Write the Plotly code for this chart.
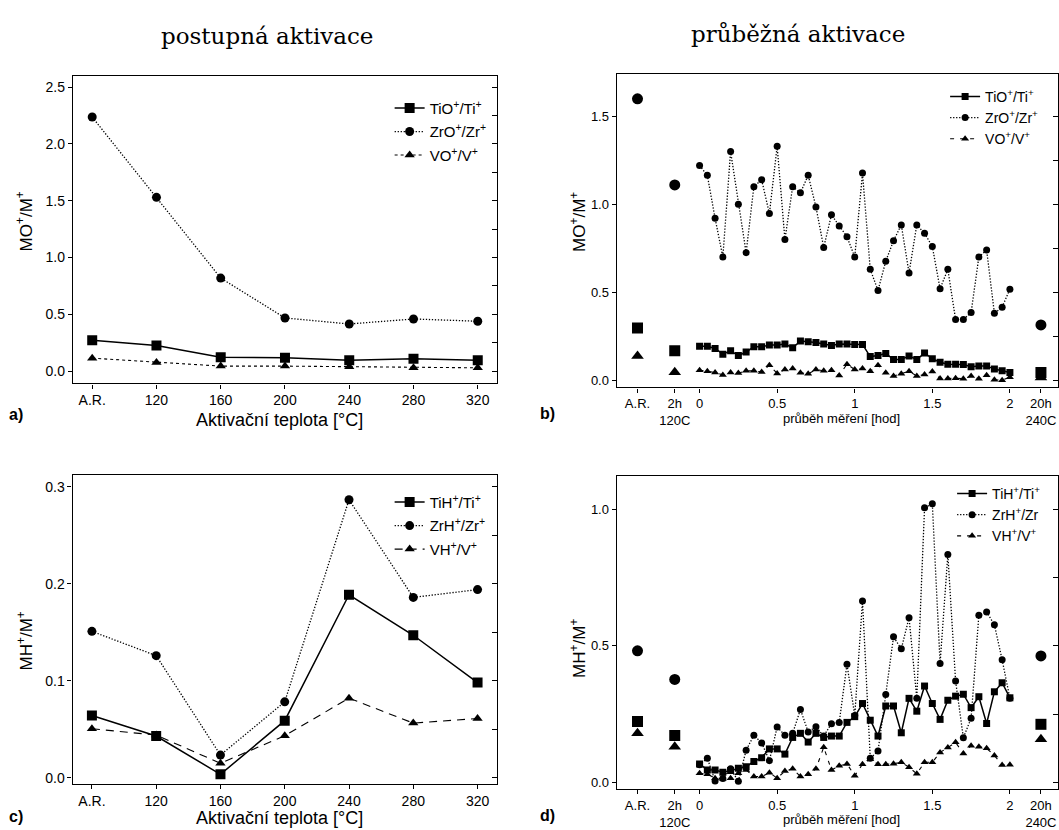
import plotly.graph_objects as go

W, H = 1059, 830

# ---------------- panel a / c : stepwise activation ----------------
temps = ["A.R.", "120", "160", "200", "240", "280", "320"]

a_ti = [0.272, 0.225, 0.123, 0.117, 0.096, 0.108, 0.096]
a_zr = [2.237, 1.530, 0.819, 0.468, 0.415, 0.459, 0.439]
a_v = [0.114, 0.076, 0.044, 0.044, 0.038, 0.029, 0.029]

c_ti = [0.0644, 0.0432, 0.0038, 0.0590, 0.1887, 0.1470, 0.0983]
c_zr = [0.1510, 0.1260, 0.0236, 0.0784, 0.2866, 0.1860, 0.1940]
c_v = [0.0507, 0.0442, 0.0151, 0.0435, 0.0822, 0.0565, 0.0613]

# ---------------- panel b / d : continuous activation ----------------
hours = [0.00, 0.05, 0.10, 0.15, 0.20, 0.25, 0.30, 0.35, 0.40, 0.45,
         0.50, 0.55, 0.60, 0.65, 0.70, 0.75, 0.80, 0.85, 0.90, 0.95,
         1.00, 1.05, 1.10, 1.15, 1.20, 1.25, 1.30, 1.35, 1.40, 1.45,
         1.50, 1.55, 1.60, 1.65, 1.70, 1.75, 1.80, 1.85, 1.90, 1.95, 2.00]

b_zr = [1.220, 1.165, 0.920, 0.700, 1.300, 1.000, 0.725, 1.100, 1.140, 0.947,
        1.330, 0.800, 1.100, 1.065, 1.165, 0.985, 0.755, 0.940, 0.877, 0.816,
        0.700, 1.178, 0.630, 0.510, 0.676, 0.793, 0.883, 0.610, 0.883, 0.835,
        0.760, 0.520, 0.630, 0.345, 0.345, 0.385, 0.700, 0.740, 0.380, 0.415, 0.517]
b_ti = [0.193, 0.193, 0.180, 0.148, 0.167, 0.140, 0.160, 0.190, 0.190, 0.200,
        0.200, 0.205, 0.184, 0.223, 0.218, 0.214, 0.205, 0.197, 0.205, 0.205,
        0.203, 0.203, 0.134, 0.140, 0.152, 0.117, 0.117, 0.138, 0.117, 0.155,
        0.121, 0.102, 0.091, 0.091, 0.089, 0.076, 0.081, 0.081, 0.063, 0.053, 0.044]
b_v = [0.057, 0.050, 0.044, 0.030, 0.044, 0.040, 0.053, 0.053, 0.047, 0.085,
       0.038, 0.060, 0.066, 0.042, 0.036, 0.060, 0.053, 0.057, 0.026, 0.091,
       0.060, 0.066, 0.051, 0.085, 0.042, 0.023, 0.036, 0.051, 0.023, 0.032,
       0.049, 0.009, 0.009, 0.011, 0.008, 0.023, 0.008, 0.028, 0.002, 0.000, 0.017]

d_zr = [0.065, 0.089, 0.006, 0.015, 0.050, 0.005, 0.118, 0.173, 0.145, 0.080,
        0.203, 0.173, 0.180, 0.267, 0.185, 0.204, 0.170, 0.215, 0.220, 0.433,
        0.245, 0.664, 0.089, 0.115, 0.322, 0.533, 0.489, 0.603, 0.308, 1.005,
        1.020, 0.435, 0.834, 0.371, 0.164, 0.235, 0.612, 0.624, 0.577, 0.449, 0.308]
d_ti = [0.068, 0.046, 0.046, 0.038, 0.044, 0.052, 0.058, 0.077, 0.091, 0.123,
        0.123, 0.104, 0.165, 0.180, 0.148, 0.180, 0.165, 0.170, 0.170, 0.220,
        0.241, 0.289, 0.228, 0.170, 0.280, 0.280, 0.182, 0.308, 0.261, 0.353,
        0.289, 0.231, 0.301, 0.316, 0.323, 0.274, 0.314, 0.216, 0.332, 0.365, 0.310]
d_v = [0.034, 0.030, 0.016, 0.014, 0.016, 0.034, 0.046, 0.022, 0.022, 0.036,
       0.016, 0.042, 0.050, 0.022, 0.030, 0.050, 0.129, 0.046, 0.061, 0.068,
       0.025, 0.067, 0.085, 0.067, 0.067, 0.069, 0.074, 0.056, 0.032, 0.074,
       0.074, 0.110, 0.128, 0.147, 0.106, 0.135, 0.131, 0.125, 0.099, 0.064, 0.065]

# separate reference measurements: as received, after 2h at 120C, after 20h at 240C
ref_pos = [-0.40, -0.16, 2.20]
b_ref_ti = [0.297, 0.167, 0.044]
b_ref_zr = [1.600, 1.110, 0.314]
b_ref_v = [0.138, 0.045, 0.015]
d_ref_ti = [0.223, 0.172, 0.213]
d_ref_zr = [0.482, 0.377, 0.463]
d_ref_v = [0.180, 0.131, 0.158]

time_tickvals = [-0.40, -0.16, 0, 0.5, 1, 1.5, 2, 2.20]
time_ticktext = ["A.R.", "2h<br>120C", "0", "0.5", "1", "1.5", "2", "20h<br>240C"]


def px(x):
    return x / W


def py(y):
    return 1 - y / H


SANS = "Liberation Sans, Arial, sans-serif"
SERIF = "DejaVu Serif, serif"
BLACK = "#000000"

fig = go.Figure()

STYLE = {
    "ti": dict(symbol="square", dash="solid", width=1.5),
    "zr": dict(symbol="circle", dash="1.3px,1.7px", width=1.3),
    "v": dict(symbol="triangle-up", dash="dash", width=1.1),
}


def add_series(x, y, kind, name, xa, ya, legend, msize, vdash=None):
    st = STYLE[kind]
    dash = vdash if (kind == "v" and vdash) else st["dash"]
    fig.add_trace(go.Scatter(
        x=x, y=y, mode="lines+markers", name=name,
        xaxis=xa, yaxis=ya, legend=legend, legendgroup=legend + kind,
        line=dict(color=BLACK, width=st["width"], dash=dash),
        marker=dict(symbol=st["symbol"], size=msize, color=BLACK),
    ))


def add_refs(y, kind, xa, ya, msize):
    fig.add_trace(go.Scatter(
        x=ref_pos, y=y, mode="markers", showlegend=False,
        xaxis=xa, yaxis=ya,
        marker=dict(symbol=STYLE[kind]["symbol"], size=msize, color=BLACK),
    ))


# panel a
add_series(temps, a_ti, "ti", "TiO<sup>+</sup>/Ti<sup>+</sup>", "x", "y", "legend", 10)
add_series(temps, a_zr, "zr", "ZrO<sup>+</sup>/Zr<sup>+</sup>", "x", "y", "legend", 9)
add_series(temps, a_v, "v", "VO<sup>+</sup>/V<sup>+</sup>", "x", "y", "legend", 9, "3px,3px")

# panel b
add_series(hours, b_ti, "ti", "TiO<sup>+</sup>/Ti<sup>+</sup>", "x2", "y2", "legend2", 7)
add_series(hours, b_zr, "zr", "ZrO<sup>+</sup>/Zr<sup>+</sup>", "x2", "y2", "legend2", 7)
add_series(hours, b_v, "v", "VO<sup>+</sup>/V<sup>+</sup>", "x2", "y2", "legend2", 7, "4px,6px")
add_refs(b_ref_ti, "ti", "x2", "y2", 11)
add_refs(b_ref_zr, "zr", "x2", "y2", 11)
add_refs(b_ref_v, "v", "x2", "y2", 11)

# panel c
add_series(temps, c_ti, "ti", "TiH<sup>+</sup>/Ti<sup>+</sup>", "x3", "y3", "legend3", 10)
add_series(temps, c_zr, "zr", "ZrH<sup>+</sup>/Zr<sup>+</sup>", "x3", "y3", "legend3", 9)
add_series(temps, c_v, "v", "VH<sup>+</sup>/V<sup>+</sup>", "x3", "y3", "legend3", 9, "8px,6px")

# panel d
add_series(hours, d_ti, "ti", "TiH<sup>+</sup>/Ti<sup>+</sup>", "x4", "y4", "legend4", 7)
add_series(hours, d_zr, "zr", "ZrH<sup>+</sup>/Zr", "x4", "y4", "legend4", 7)
add_series(hours, d_v, "v", "VH<sup>+</sup>/V<sup>+</sup>", "x4", "y4", "legend4", 7, "4px,6px")
add_refs(d_ref_ti, "ti", "x4", "y4", 11)
add_refs(d_ref_zr, "zr", "x4", "y4", 11)
add_refs(d_ref_v, "v", "x4", "y4", 11)

# empty traces so the right-hand tick axes get drawn
for xa, ya in [("x", "y5"), ("x2", "y6"), ("x3", "y7"), ("x4", "y8")]:
    fig.add_trace(go.Scatter(x=[], y=[], xaxis=xa, yaxis=ya, showlegend=False))

dom = {
    "a": ([px(73), px(497.5)], [py(384.3), py(76)]),
    "b": ([px(617.3), 1.0], [py(388.3), py(74)]),
    "c": ([px(72.7), px(497.3)], [py(785.7), py(475.7)]),
    "d": ([px(617.3), 1.0], [py(791), py(476.7)]),
}

axis_line = dict(showline=True, linecolor=BLACK, linewidth=1.3, mirror=True,
                 showgrid=False, zeroline=False, ticks="outside", ticklen=4,
                 tickwidth=1, tickcolor=BLACK)

big_tick = dict(family=SANS, size=14, color=BLACK)
small_tick = dict(family=SANS, size=13, color=BLACK)

layout = dict(
    width=W, height=H, margin=dict(l=0, r=0, t=0, b=0),
    paper_bgcolor="white", plot_bgcolor="white",
    font=dict(family=SANS, color=BLACK),
    xaxis=dict(domain=dom["a"][0], anchor="y", type="category", range=[-0.3, 6.3],
               tickfont=big_tick, **axis_line),
    yaxis=dict(domain=dom["a"][1], anchor="x", range=[-0.108, 2.6], dtick=0.5,
               tickformat=".1f", tickfont=big_tick, **axis_line),
    xaxis2=dict(domain=dom["b"][0], anchor="y2", range=[-0.534, 2.31],
                tickvals=time_tickvals, ticktext=time_ticktext,
                tickfont=small_tick, **axis_line),
    yaxis2=dict(domain=dom["b"][1], anchor="x2", range=[-0.041, 1.742], dtick=0.5,
                tickformat=".1f", tickfont=small_tick, **axis_line),
    xaxis3=dict(domain=dom["c"][0], anchor="y3", type="category", range=[-0.3, 6.3],
                tickfont=big_tick, **axis_line),
    yaxis3=dict(domain=dom["c"][1], anchor="x3", range=[-0.006, 0.3125], dtick=0.1,
                tickformat=".1f", tickfont=big_tick, **axis_line),
    xaxis4=dict(domain=dom["d"][0], anchor="y4", range=[-0.534, 2.31],
                tickvals=time_tickvals, ticktext=time_ticktext,
                tickfont=small_tick, **axis_line),
    yaxis4=dict(domain=dom["d"][1], anchor="x4", range=[-0.024, 1.123], dtick=0.5,
                tickformat=".1f", tickfont=small_tick, **axis_line),
)

# right-hand inward ticks (major + intermediate)
right_ticks = dict(side="right", ticks="inside", ticklen=5, tickwidth=1,
                   tickcolor=BLACK, showticklabels=False, showgrid=False,
                   zeroline=False, showline=False)
layout["yaxis5"] = dict(overlaying="y", anchor="x", range=[-0.108, 2.6], dtick=0.25, **right_ticks)
layout["yaxis6"] = dict(overlaying="y2", anchor="x2", range=[-0.041, 1.742], dtick=0.25, **right_ticks)
layout["yaxis7"] = dict(overlaying="y3", anchor="x3", range=[-0.006, 0.3125], dtick=0.05, **right_ticks)
layout["yaxis8"] = dict(overlaying="y4", anchor="x4", range=[-0.024, 1.123], dtick=0.25, **right_ticks)

leg_common = dict(bgcolor="rgba(0,0,0,0)", borderwidth=0, xanchor="left", yanchor="top",
                  itemwidth=30)
layout["legend"] = dict(x=px(390), y=py(92), tracegroupgap=1,
                        font=dict(family=SANS, size=15, color=BLACK), **leg_common)
layout["legend2"] = dict(x=px(946), y=py(81), tracegroupgap=0,
                         font=dict(family=SANS, size=14, color=BLACK), **leg_common)
layout["legend3"] = dict(x=px(390), y=py(487), tracegroupgap=1,
                         font=dict(family=SANS, size=15, color=BLACK), **leg_common)
layout["legend4"] = dict(x=px(953), y=py(479), tracegroupgap=0,
                         font=dict(family=SANS, size=14, color=BLACK), **leg_common)

fig.update_layout(**layout)


def note(text, x, y, size, family=SANS, angle=0, xanchor="center"):
    fig.add_annotation(text=text, x=px(x), y=py(y), xref="paper", yref="paper",
                       showarrow=False, textangle=angle, xanchor=xanchor, yanchor="middle",
                       font=dict(family=family, size=size, color=BLACK))


note("postupná aktivace", 267, 36, 23, SERIF)
note("průběžná aktivace", 799, 34, 23, SERIF)

note("MO<sup>+</sup>/M<sup>+</sup>", 25, 222, 17, angle=-90)
note("MO<sup>+</sup>/M<sup>+</sup>", 579, 222, 17, angle=-90)
note("MH<sup>+</sup>/M<sup>+</sup>", 25, 642, 17, angle=-90)
note("MH<sup>+</sup>/M<sup>+</sup>", 579, 650, 17, angle=-90)

note("Aktivační teplota [°C]", 280, 421, 18)
note("Aktivační teplota [°C]", 280, 820, 18)
note("průběh měření [hod]", 842, 420, 13)
note("průběh měření [hod]", 842, 821, 13)

note("<b>a)</b>", 7, 416, 16, xanchor="left")
note("<b>b)</b>", 539, 414, 16, xanchor="left")
note("<b>c)</b>", 7, 818, 16, xanchor="left")
note("<b>d)</b>", 539, 817, 16, xanchor="left")

fig.write_html("out.html")
